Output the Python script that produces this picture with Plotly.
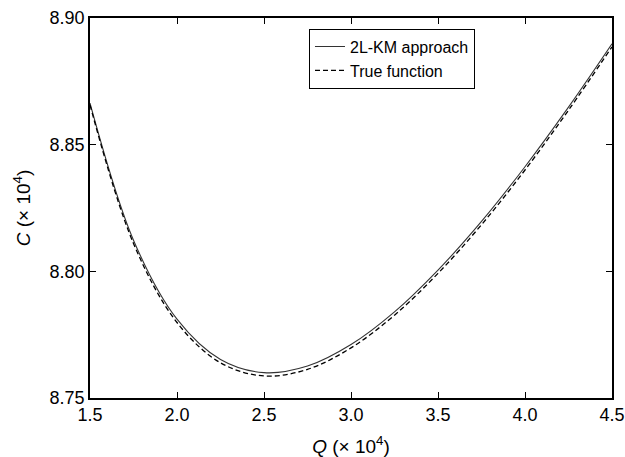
import plotly.graph_objects as go

# Order quantity Q (x 10^4)
q_values = [1.50, 1.75, 2.00, 2.25, 2.50, 2.75, 3.00, 3.25, 3.50, 3.75, 4.00, 4.25, 4.50]

# Total cost C (x 10^4): 2L-KM approximation
cost_2lkm = [8.8664, 8.8123, 8.7811, 8.7652, 8.7600, 8.7626, 8.7711,
             8.7840, 8.8005, 8.8197, 8.8413, 8.8648, 8.8898]

# Total cost C (x 10^4): true function
cost_true = [8.8657, 8.8110, 8.7798, 8.7639, 8.7587, 8.7613, 8.7698,
             8.7827, 8.7992, 8.8184, 8.8400, 8.8636, 8.8886]

x_ticks = [1.5, 2.0, 2.5, 3.0, 3.5, 4.0, 4.5]
y_ticks = [8.75, 8.80, 8.85, 8.90]

FONT = "Liberation Sans, Arial, Helvetica, sans-serif"

fig = go.Figure()
fig.add_trace(go.Scatter(
    x=q_values, y=cost_2lkm, mode="lines", name="2L-KM approach",
    line=dict(color="#333333", width=1.1, shape="spline"),
))
fig.add_trace(go.Scatter(
    x=q_values, y=cost_true, mode="lines", name="True function",
    line=dict(color="black", width=1.3, dash="5px,3px", shape="spline"),
))

axis_common = dict(
    showgrid=False, zeroline=False, automargin=False,
    showline=True, linecolor="black", linewidth=1.5,
    mirror="ticks", ticks="inside", ticklen=6, tickwidth=1,
    tickcolor="black",
    tickfont=dict(family=FONT, size=18, color="black"),
)

fig.update_layout(
    width=625, height=457,
    margin=dict(l=90, r=13, t=18, b=59),
    paper_bgcolor="white", plot_bgcolor="white",
    font=dict(family=FONT, color="black"),
    showlegend=True,
    legend=dict(
        x=0.4195, y=0.972, xanchor="left", yanchor="top",
        bgcolor="white", bordercolor="black", borderwidth=1,
        font=dict(family=FONT, size=16, color="black"),
        traceorder="normal", tracegroupgap=0,
    ),
    xaxis=dict(
        range=[1.5, 4.5], tickvals=x_ticks,
        ticktext=[f"{v:.1f}" for v in x_ticks],
        title=dict(text="<i>Q</i> (× 10<sup>4</sup>)",
                   font=dict(family=FONT, size=19, color="black"), standoff=16),
        **axis_common,
    ),
    yaxis=dict(
        range=[8.75, 8.90], tickvals=y_ticks,
        ticktext=[f"{v:.2f}" for v in y_ticks],
        title=dict(text="<i>C</i> (× 10<sup>4</sup>)",
                   font=dict(family=FONT, size=19, color="black"), standoff=14),
        **axis_common,
    ),
)

fig.write_html("out.html")
